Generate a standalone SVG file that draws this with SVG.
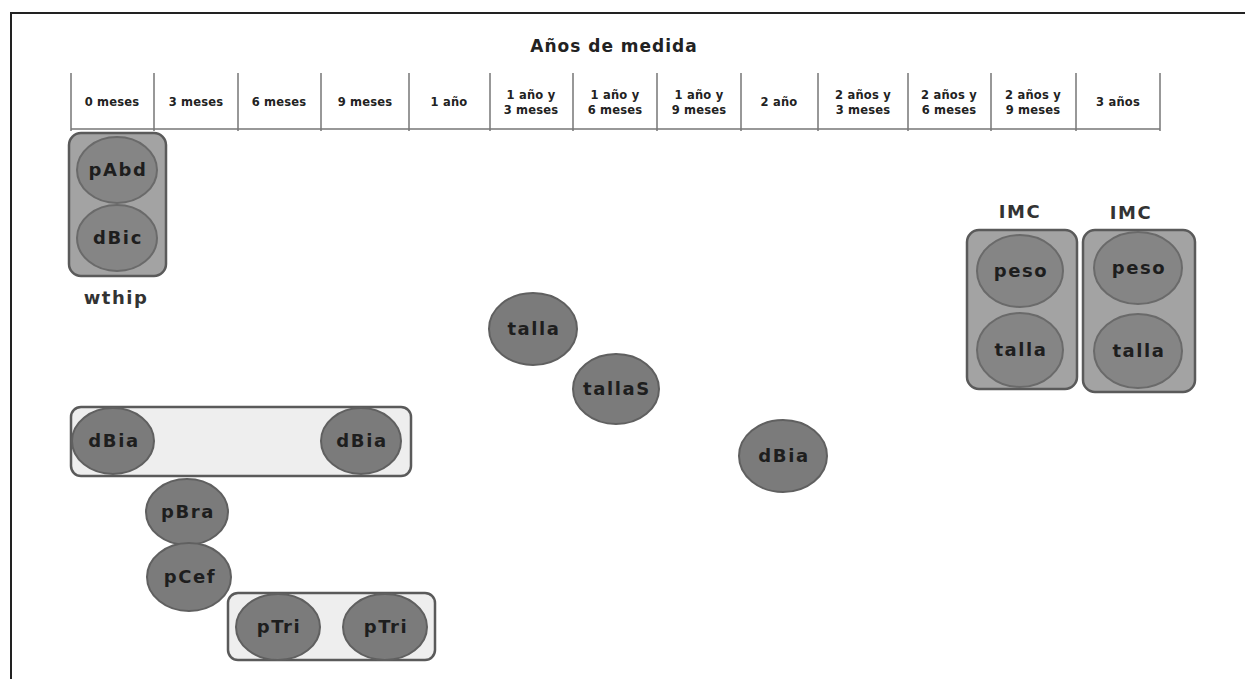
<svg xmlns="http://www.w3.org/2000/svg" width="1245" height="679" viewBox="0 0 1245 679">
<style>
.frame{stroke:#222;stroke-width:2;fill:none}
.grid{stroke:#777;stroke-width:1.5;fill:none}
.hd{font-family:"DejaVu Sans","Liberation Sans",sans-serif;font-weight:700;font-size:11.5px;fill:#222;text-anchor:middle;letter-spacing:0.2px}
.title{font-family:"DejaVu Sans","Liberation Sans",sans-serif;font-weight:700;font-size:17px;fill:#222;text-anchor:middle;letter-spacing:1px}
.grpD{fill:#a3a3a3;stroke:#5a5a5a;stroke-width:2.5}
.grpL{fill:#eeeeee;stroke:#5a5a5a;stroke-width:2.5}
.nd{fill:#7b7b7b;stroke:#606060;stroke-width:2}
.ndi{fill:#858585;stroke:#6a6a6a;stroke-width:2}
.lb{font-family:"DejaVu Sans","Liberation Sans",sans-serif;font-weight:700;font-size:18px;fill:#1e1e1e;text-anchor:middle;letter-spacing:1.6px}
.gl{font-family:"DejaVu Sans","Liberation Sans",sans-serif;font-weight:700;font-size:18px;fill:#333;text-anchor:middle;letter-spacing:1.5px}
</style>
<rect width="1245" height="679" fill="#fff"/>
<path class="frame" d="M11 679 V13 H1245"/>
<g id="header">
<text class="title" x="614" y="52">Años de medida</text>
<path class="grid" d="M71 129 H1160 M71 73 V131 M154 73 V131 M238 73 V131 M321 73 V131 M409 73 V131 M490 73 V131 M573 73 V131 M657 73 V131 M741 73 V131 M818 73 V131 M908 73 V131 M991 73 V131 M1076 73 V131 M1160 73 V131"/>
<text class="hd" x="112" y="106">0 meses</text>
<text class="hd" x="196" y="106">3 meses</text>
<text class="hd" x="279" y="106">6 meses</text>
<text class="hd" x="365" y="106">9 meses</text>
<text class="hd" x="449" y="106">1 año</text>
<text class="hd" x="531" y="99">1 año y</text><text class="hd" x="531" y="114">3 meses</text>
<text class="hd" x="615" y="99">1 año y</text><text class="hd" x="615" y="114">6 meses</text>
<text class="hd" x="699" y="99">1 año y</text><text class="hd" x="699" y="114">9 meses</text>
<text class="hd" x="779" y="106">2 año</text>
<text class="hd" x="863" y="99">2 años y</text><text class="hd" x="863" y="114">3 meses</text>
<text class="hd" x="949" y="99">2 años y</text><text class="hd" x="949" y="114">6 meses</text>
<text class="hd" x="1033" y="99">2 años y</text><text class="hd" x="1033" y="114">9 meses</text>
<text class="hd" x="1118" y="106">3 años</text>
</g>
<g id="connectors"></g>
<g id="wthip">
<rect class="grpD" x="69" y="133" width="97" height="143" rx="12"/>
<ellipse class="ndi" cx="117" cy="170" rx="40" ry="33"/>
<text class="lb" x="118" y="176">pAbd</text>
<ellipse class="ndi" cx="117" cy="238" rx="40" ry="33"/>
<text class="lb" x="118" y="244">dBic</text>
<text class="gl" x="116" y="304">wthip</text>
</g>
<g id="imc1">
<text class="gl" x="1020" y="218">IMC</text>
<rect class="grpD" x="967" y="230" width="110" height="159" rx="12"/>
<ellipse class="ndi" cx="1020" cy="271" rx="43" ry="36"/>
<text class="lb" x="1021" y="277">peso</text>
<ellipse class="ndi" cx="1020" cy="350" rx="43" ry="37"/>
<text class="lb" x="1021" y="356">talla</text>
</g>
<g id="imc2">
<text class="gl" x="1131" y="219">IMC</text>
<rect class="grpD" x="1083" y="230" width="112" height="162" rx="12"/>
<ellipse class="ndi" cx="1138" cy="268" rx="44" ry="36"/>
<text class="lb" x="1139" y="274">peso</text>
<ellipse class="ndi" cx="1138" cy="351" rx="44" ry="37"/>
<text class="lb" x="1139" y="357">talla</text>
</g>
<g id="talla">
<ellipse class="nd" cx="533" cy="329" rx="44" ry="36"/>
<text class="lb" x="534" y="335">talla</text>
</g>
<g id="tallaS">
<ellipse class="nd" cx="616" cy="389" rx="43" ry="35"/>
<text class="lb" x="617" y="395">tallaS</text>
</g>
<g id="dBia3">
<ellipse class="nd" cx="783" cy="456" rx="44" ry="36"/>
<text class="lb" x="784" y="462">dBia</text>
</g>
<g id="dBiaGroup">
<rect class="grpL" x="71" y="407" width="340" height="69" rx="10"/>
<ellipse class="nd" cx="113" cy="441" rx="41" ry="33"/>
<text class="lb" x="114" y="447">dBia</text>
<ellipse class="nd" cx="361" cy="441" rx="40" ry="33"/>
<text class="lb" x="362" y="447">dBia</text>
</g>
<g id="pBra">
<ellipse class="nd" cx="187" cy="512" rx="41" ry="33"/>
<text class="lb" x="188" y="518">pBra</text>
</g>
<g id="pCef">
<ellipse class="nd" cx="189" cy="577" rx="42" ry="34"/>
<text class="lb" x="190" y="583">pCef</text>
</g>
<g id="pTriGroup">
<rect class="grpL" x="228" y="593" width="207" height="67" rx="10"/>
<ellipse class="nd" cx="278" cy="627" rx="42" ry="33"/>
<text class="lb" x="279" y="633">pTri</text>
<ellipse class="nd" cx="385" cy="627" rx="42" ry="33"/>
<text class="lb" x="386" y="633">pTri</text>
</g>
</svg>
